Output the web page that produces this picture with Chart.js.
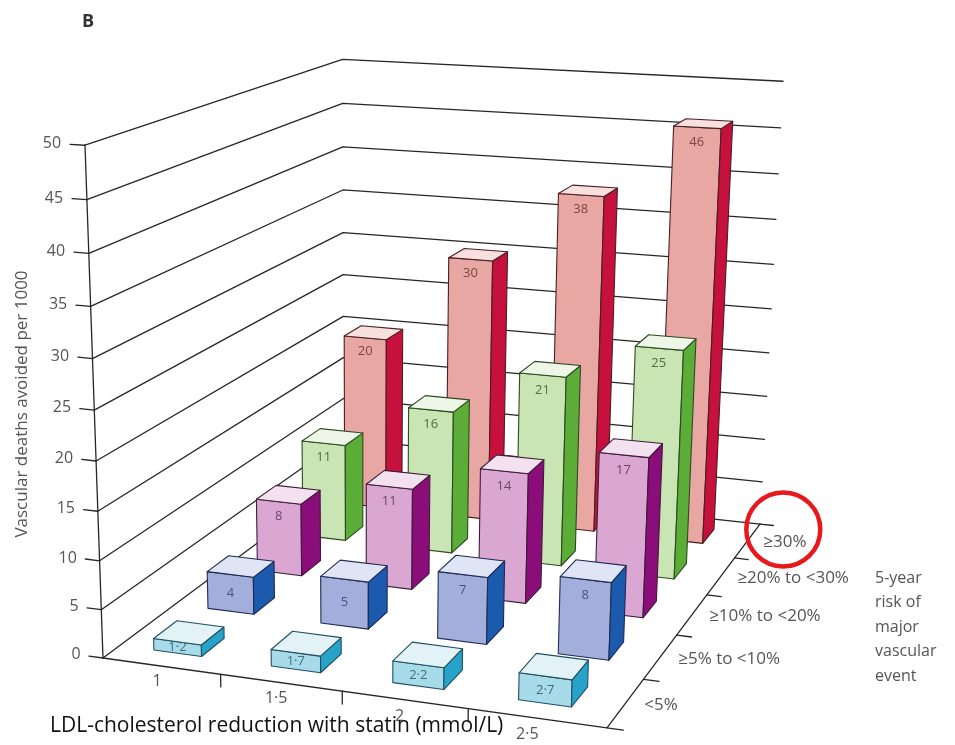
<!DOCTYPE html>
<html>
<head>
<meta charset="utf-8">
<title>Vascular deaths avoided per 1000</title>
<script src="https://cdn.jsdelivr.net/npm/chart.js@4.4.1/dist/chart.umd.min.js"></script>
<style>
  html, body { margin: 0; padding: 0; background: #fff; }
  canvas { display: block; }
</style>
</head>
<body>
<canvas id="mycanvas" width="955" height="745"></canvas>
<script>
var ldlReduction = ['1', '1·5', '2', '2·5'];
var riskGroups = ['<5%', '≥5% to <10%', '≥10% to <20%', '≥20% to <30%', '≥30%'];

var riskUnder5 = [1.2, 1.7, 2.2, 2.7];
var risk5to10 = [4, 5, 7, 8];
var risk10to20 = [8, 11, 14, 17];
var risk20to30 = [11, 16, 21, 25];
var risk30plus = [20, 30, 38, 46];

var yTicks = [0, 5, 10, 15, 20, 25, 30, 35, 40, 45, 50];

var rowColors = [
  { front: '#a8dbe9', side: '#27a2c8', top: '#e2f2f7', edge: '#1f5060', text: '#3d6f7d' },
  { front: '#a3aedb', side: '#1c5aad', top: '#e0e5f5', edge: '#1f2a55', text: '#4a557f' },
  { front: '#d9a7d2', side: '#8b0d79', top: '#f3e1f0', edge: '#3e1b39', text: '#6d4767' },
  { front: '#c9e5b3', side: '#5bad37', top: '#eef7e7', edge: '#2c4a22', text: '#4d7040' },
  { front: '#e9a7a3', side: '#c6103e', top: '#f7e0de', edge: '#4b1f20', text: '#7d4440' }
];

var series = [riskUnder5, risk5to10, risk10to20, risk20to30, risk30plus];

// the bars take up a little less than the whole floor width
var floorFill = 0.985;

// perspective camera fitted to the printed figure
// u: along the LDL axis, d: into the depth (risk), h: height (0..1 of the value axis)
function project(u, d, h) {
  var w = -0.06866 * u + 0.2359 * d - 0.06429 * h + 1;
  return {
    x: (462.3 * u + 321.8 * d - 23.47 * h + 103) / w,
    y: (19.98 * u - 66.29 * d - 522.1 * h + 658) / w
  };
}

function path(ctx, pts, close) {
  ctx.beginPath();
  for (var k = 0; k < pts.length; k++) {
    if (k === 0) ctx.moveTo(pts[k].x, pts[k].y);
    else ctx.lineTo(pts[k].x, pts[k].y);
  }
  if (close) ctx.closePath();
}

function face(ctx, pts, fill, edge) {
  path(ctx, pts, true);
  ctx.fillStyle = fill;
  ctx.fill();
  ctx.strokeStyle = edge;
  ctx.lineWidth = 1.1;
  ctx.stroke();
}

function drawBox(ctx, u0, u1, d0, d1, h, c) {
  var P = project;
  face(ctx, [P(u0, d0, 0), P(u1, d0, 0), P(u1, d0, h), P(u0, d0, h)], c.front, c.edge);
  face(ctx, [P(u1, d0, 0), P(u1, d1, 0), P(u1, d1, h), P(u1, d0, h)], c.side, c.edge);
  face(ctx, [P(u0, d0, h), P(u1, d0, h), P(u1, d1, h), P(u0, d1, h)], c.top, c.edge);
}

function text(ctx, str, p, font, color, align) {
  ctx.font = font;
  ctx.fillStyle = color;
  ctx.textAlign = align || 'center';
  ctx.textBaseline = 'middle';
  ctx.fillText(str, p.x, p.y);
}

var perspectiveBars = {
  id: 'perspectiveBars',
  beforeDatasetsDraw: function(chart) {
    var ctx = chart.ctx;
    var xs = chart.scales.x, ys = chart.scales.y, zs = chart.scales.depth;
    var P = project;
    function uOf(i) { return floorFill * xs.getDecimalForPixel(xs.getPixelForValue(i)); }
    function hOf(v) { return ys.getDecimalForPixel(ys.getPixelForValue(v)); }
    function dOf(j) { return zs.getDecimalForPixel(zs.getPixelForValue(j)); }

    var slotU = uOf(1) - uOf(0);
    var halfW = slotU * 0.205;
    var halfD = 0.042;

    ctx.save();
    ctx.lineCap = 'round';
    ctx.lineJoin = 'round';

    // walls
    ctx.strokeStyle = '#262626';
    ctx.lineWidth = 1.3;
    yTicks.forEach(function(v) {
      var h = hOf(v);
      path(ctx, [P(0, 0, h), P(0, 1, h), P(1, 1, h)]);
      ctx.stroke();
      path(ctx, [P(-0.03, 0, h), P(0, 0, h)]);
      ctx.stroke();
      text(ctx, String(v), P(-0.048, 0, h), '16px "Open Sans"', '#555', 'right');
    });
    path(ctx, [P(0, 0, 0), P(0, 0, 1)]);
    ctx.stroke();

    // floor edges and ticks
    path(ctx, [P(0, 0, 0), P(1, 0, 0), P(1, 1, 0)]);
    ctx.stroke();
    for (var k = 1; k < ldlReduction.length; k++) {
      var ub = uOf(k - 0.5);
      path(ctx, [P(ub, 0, 0), P(ub, 0, -0.026)]);
      ctx.stroke();
    }
    for (var m = 0; m <= riskGroups.length; m++) {
      var db = dOf(m - 0.5);
      path(ctx, [P(1, db, 0), P(1.03, db, 0)]);
      ctx.stroke();
    }

    // bars, back row first
    for (var j = series.length - 1; j >= 0; j--) {
      var d = dOf(j);
      var c = rowColors[j];
      series[j].forEach(function(v, i) {
        var u = uOf(i);
        var h = hOf(v);
        drawBox(ctx, u - halfW, u + halfW, d - halfD, d + halfD, h, c);
        var lz = h < 0.12 ? h / 2 : h - 0.032;
        text(ctx, String(v).replace('.', '·'), P(u, d - halfD, lz), '13px "Open Sans"', c.text);
      });
    }

    // axis labels
    ldlReduction.forEach(function(lbl, i) {
      text(ctx, lbl, P(uOf(i) - 0.01, 0, -0.034), '16px "Open Sans"', '#555');
    });
    riskGroups.forEach(function(lbl, j) {
      text(ctx, lbl, P(1.035, dOf(j), 0), '17px "Open Sans"', '#555', 'left');
    });

    // highlight drawn on the figure around the top risk group
    var top = P(1.035, dOf(riskGroups.length - 1), 0);
    ctx.beginPath();
    ctx.arc(top.x + 20, top.y - 13, 37, 0, Math.PI * 2);
    ctx.strokeStyle = '#e8191c';
    ctx.lineWidth = 4.5;
    ctx.stroke();

    var riskTitle = ['5-year', 'risk of', 'major', 'vascular', 'event'];
    riskTitle.forEach(function(lbl, n) {
      text(ctx, lbl, { x: 875, y: 578 + n * 24.5 }, '16px "Open Sans"', '#555', 'left');
    });

    // value axis title
    ctx.save();
    ctx.translate(22, 404);
    ctx.rotate(-Math.PI / 2);
    text(ctx, 'Vascular deaths avoided per 1000', { x: 0, y: 0 }, '17px "Open Sans"', '#555');
    ctx.restore();

    text(ctx, 'B', { x: 82, y: 22 }, 'bold 18px "Open Sans"', '#333', 'left');
    text(ctx, 'LDL-cholesterol reduction with statin (mmol/L)', { x: 50, y: 726 }, '21px "Open Sans"', '#111', 'left');

    ctx.restore();
    return false;
  }
};

var datasets = series.map(function(values, j) {
  return { label: riskGroups[j], data: values, backgroundColor: rowColors[j].front };
});

var ctx = document.getElementById('mycanvas');
var chart = new Chart(ctx, {
  type: 'bar',
  data: { labels: ldlReduction, datasets: datasets },
  options: {
    responsive: false,
    animation: false,
    layout: { padding: 0 },
    plugins: { legend: { display: false }, tooltip: { enabled: false } },
    scales: {
      x: { display: false, offset: true },
      y: { display: false, min: 0, max: 50 },
      depth: { type: 'category', axis: 'x', position: 'bottom', labels: riskGroups, offset: true, display: false }
    }
  },
  plugins: [perspectiveBars]
});
</script>
</body>
</html>
